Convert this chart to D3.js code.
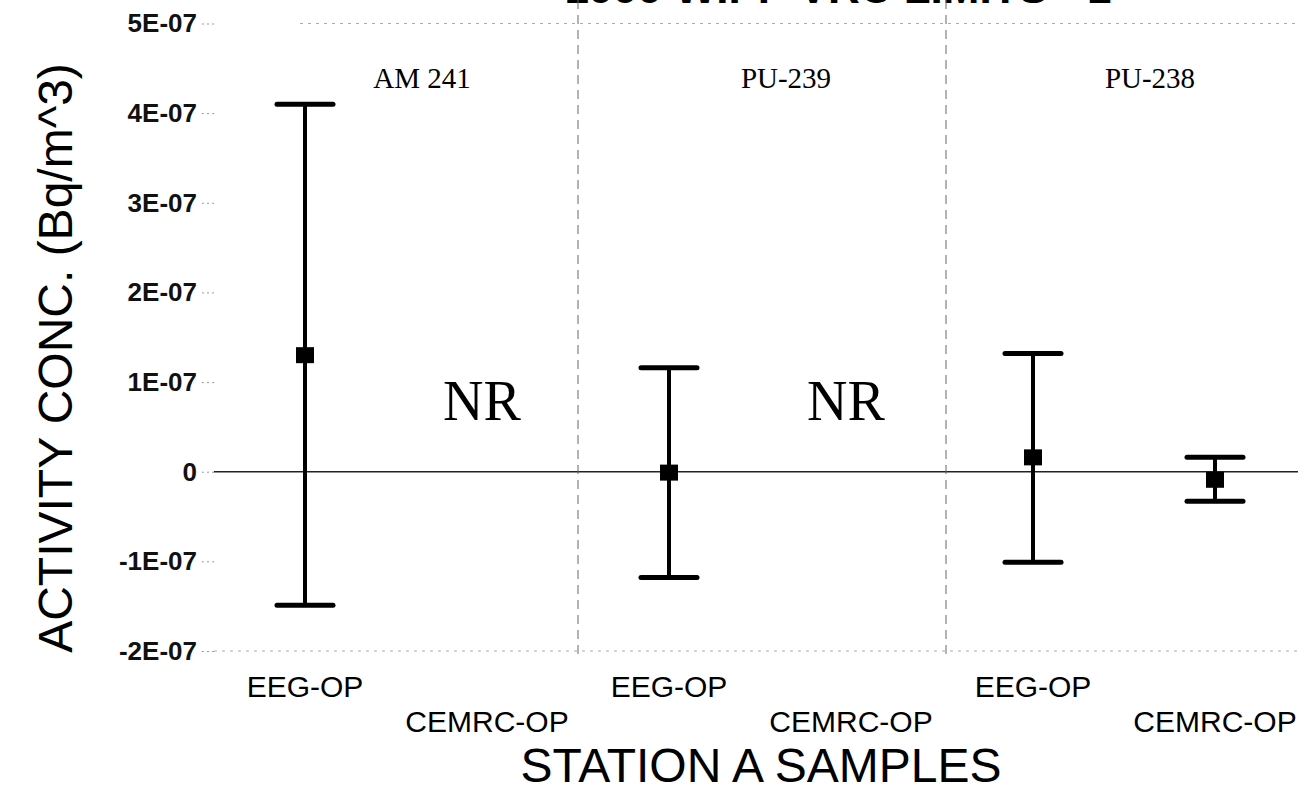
<!DOCTYPE html>
<html>
<head>
<meta charset="utf-8">
<script src="https://cdn.jsdelivr.net/npm/d3@7"></script>
<style>
    body { margin: 0; background: #fff; }
    svg { display: block; }
</style>
</head>
<body>
<div id="chart"></div>
<script>
    // chart data
    var samples = ["EEG-OP", "CEMRC-OP", "EEG-OP", "CEMRC-OP", "EEG-OP", "CEMRC-OP"];
    var isotopes = ["AM 241", "PU-239", "PU-238"];
    var values = [1.30e-7, null, -0.01e-7, null, 0.16e-7, -0.09e-7];
    var lower = [-1.49e-7, null, -1.18e-7, null, -1.01e-7, -0.33e-7];
    var upper = [4.10e-7, null, 1.16e-7, null, 1.32e-7, 0.16e-7];
    var yTicks = [-2e-7, -1e-7, 0, 1e-7, 2e-7, 3e-7, 4e-7, 5e-7];

    var svgWidth = 1311;
    var svgHeight = 791;

    var svg = d3.select("#chart")
        .append("svg")
        .attr("width", svgWidth)
        .attr("height", svgHeight);

    // scales
    var keys = samples.map((d, i) => i);
    var xScale = d3.scaleBand()
        .domain(keys)
        .range([214, 1306])
        .padding(0);

    var yScale = d3.scaleLinear()
        .domain([-2e-7, 5e-7])
        .range([651, 23.5]);

    // Excel style "5E-07"
    function fmt(d) {
        if (d === 0) return "0";
        var e = Math.floor(Math.log10(Math.abs(d)) + 1e-9);
        var m = Math.round(d / Math.pow(10, e));
        return m + "E-" + String(-e).padStart(2, "0");
    }

    // title, cut off at the top edge of the scan (only the bottoms show)
    svg.append("text")
        .attr("x", 838)
        .attr("y", 3)
        .attr("text-anchor", "middle")
        .style("font-family", "Liberation Sans, Arial, sans-serif")
        .style("font-weight", "bold")
        .style("font-size", "44px")
        .text("1999 WIPP VRC LIMITS - 1");

    // faint dotted grid at top and bottom
    svg.selectAll(".grid")
        .data([-2e-7, 5e-7])
        .enter()
        .append("line")
        .attr("x1", d => d > 0 ? 300 : 214)
        .attr("x2", 1300)
        .attr("y1", d => yScale(d))
        .attr("y2", d => yScale(d))
        .attr("stroke", "#aaa")
        .attr("stroke-width", 1)
        .attr("stroke-dasharray", "3,5");

    // y axis (labels + small stubs)
    var leftAxis = d3.axisLeft(yScale)
        .tickValues(yTicks)
        .tickFormat(fmt)
        .tickSize(12)
        .tickPadding(6);

    var yAxis = svg.append("g")
        .attr("transform", "translate(214,0)")
        .call(leftAxis);

    yAxis.select(".domain").remove();
    yAxis.selectAll(".tick line")
        .attr("stroke", "#999")
        .attr("stroke-dasharray", "2,3");
    yAxis.selectAll(".tick text")
        .attr("x", -17)
        .style("font-family", "Liberation Sans, Arial, sans-serif")
        .style("font-weight", "bold")
        .style("font-size", "26px")
        .attr("fill", "#111");

    // zero line
    svg.append("line")
        .attr("x1", 214)
        .attr("x2", 1298)
        .attr("y1", yScale(0))
        .attr("y2", yScale(0))
        .attr("stroke", "#222")
        .attr("stroke-width", 1.5);

    // dashed separators between isotopes
    svg.selectAll(".sep")
        .data([2, 4])
        .enter()
        .append("line")
        .attr("x1", d => xScale(d) + (d - 2) * 2)
        .attr("x2", d => xScale(d) + (d - 2) * 2)
        .attr("y1", 0)
        .attr("y2", 658)
        .attr("stroke", "#666")
        .attr("stroke-width", 1)
        .attr("stroke-dasharray", "9,6");

    // isotope labels
    svg.selectAll(".iso")
        .data(isotopes)
        .enter()
        .append("text")
        .attr("x", (d, i) => xScale(i * 2) + xScale.bandwidth() + 26)
        .attr("y", 88)
        .attr("text-anchor", "middle")
        .style("font-family", "Liberation Serif, Times New Roman, serif")
        .style("font-size", "29px")
        .text(d => d);

    // error bars
    var bars = keys.filter(i => values[i] !== null);
    var cx = i => xScale(i) + xScale.bandwidth() / 2;
    var capW = 28;

    svg.selectAll(".whisker")
        .data(bars)
        .enter()
        .append("line")
        .attr("x1", cx)
        .attr("x2", cx)
        .attr("y1", i => yScale(upper[i]))
        .attr("y2", i => yScale(lower[i]))
        .attr("stroke", "#000")
        .attr("stroke-width", 4);

    svg.selectAll(".capTop")
        .data(bars)
        .enter()
        .append("line")
        .attr("x1", i => cx(i) - capW)
        .attr("x2", i => cx(i) + capW)
        .attr("y1", i => yScale(upper[i]))
        .attr("y2", i => yScale(upper[i]))
        .attr("stroke", "#000")
        .attr("stroke-width", 5)
        .attr("stroke-linecap", "round");

    svg.selectAll(".capBot")
        .data(bars)
        .enter()
        .append("line")
        .attr("x1", i => cx(i) - capW)
        .attr("x2", i => cx(i) + capW)
        .attr("y1", i => yScale(lower[i]))
        .attr("y2", i => yScale(lower[i]))
        .attr("stroke", "#000")
        .attr("stroke-width", 5)
        .attr("stroke-linecap", "round");

    svg.selectAll(".pt")
        .data(bars)
        .enter()
        .append("rect")
        .attr("x", i => cx(i) - 9)
        .attr("y", i => yScale(values[i]) - 8)
        .attr("width", 18)
        .attr("height", 16)
        .attr("fill", "#000");

    // NR for not reported
    svg.selectAll(".nr")
        .data(keys.filter(i => values[i] === null))
        .enter()
        .append("text")
        .attr("x", i => cx(i) - 5)
        .attr("y", 420)
        .attr("text-anchor", "middle")
        .style("font-family", "Liberation Serif, Times New Roman, serif")
        .style("font-size", "56px")
        .text("NR");

    // sample labels, staggered
    svg.selectAll(".xlab")
        .data(keys)
        .enter()
        .append("text")
        .attr("x", i => cx(i))
        .attr("y", i => i % 2 === 0 ? 697 : 732)
        .attr("text-anchor", "middle")
        .style("font-family", "Liberation Sans, Arial, sans-serif")
        .style("font-size", "30px")
        .text(i => samples[i]);

    // axis titles
    svg.append("text")
        .attr("x", 761)
        .attr("y", 782)
        .attr("text-anchor", "middle")
        .style("font-family", "Liberation Sans, Arial, sans-serif")
        .style("font-size", "48px")
        .text("STATION A SAMPLES");

    svg.append("text")
        .attr("transform", "translate(72,358) rotate(-90)")
        .attr("text-anchor", "middle")
        .style("font-family", "Liberation Sans, Arial, sans-serif")
        .style("font-size", "48px")
        .text("ACTIVITY CONC. (Bq/m^3)");
</script>
</body>
</html>
